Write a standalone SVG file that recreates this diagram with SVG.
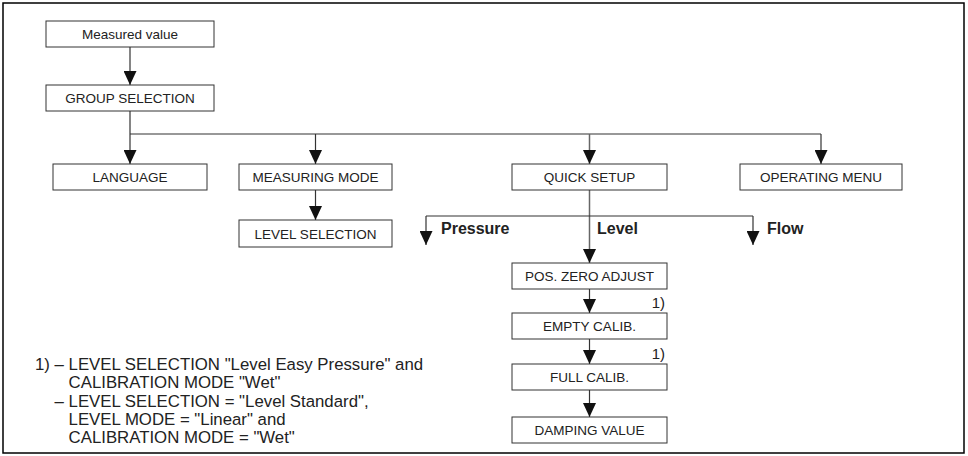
<svg xmlns="http://www.w3.org/2000/svg" width="968" height="456" viewBox="0 0 968 456">
<style>
.box{fill:#fff;stroke:#333;stroke-width:1}
.t{font-family:"Liberation Sans",Arial,sans-serif;font-size:13.5px;fill:#222;text-anchor:middle}
.lbl{font-family:"Liberation Sans",Arial,sans-serif;font-size:16px;font-weight:bold;fill:#222}
.fn{font-family:"Liberation Sans",Arial,sans-serif;font-size:16.8px;fill:#222}
.n1{font-family:"Liberation Sans",Arial,sans-serif;font-size:15px;fill:#222;text-anchor:end}
.c{fill:none;stroke:#333;stroke-width:1.2}
.ca{fill:none;stroke:#333;stroke-width:1.2;marker-end:url(#ah)}
.cg{fill:none;stroke:#666;stroke-width:1.5;marker-end:url(#ah)}
</style>
<defs>
<marker id="ah" markerUnits="userSpaceOnUse" markerWidth="14" markerHeight="13" refX="14" refY="6.5" orient="auto" viewBox="0 0 14 13">
<path d="M0,0 L14,6.5 L0,13 Z" fill="#111"/>
</marker>
</defs>
<rect x="3" y="3" width="961" height="450" fill="#fff" stroke="#000" stroke-width="1.5"/>
<g id="connectors">
<line class="ca" x1="130" y1="47" x2="130" y2="85"/>
<line class="ca" x1="130" y1="111" x2="130" y2="164"/>
<line class="c" x1="130" y1="134" x2="821" y2="134"/>
<line class="ca" x1="315.5" y1="134" x2="315.5" y2="164"/>
<line class="cg" x1="589.5" y1="134" x2="589.5" y2="164"/>
<line class="ca" x1="821" y1="134" x2="821" y2="164"/>
<line class="ca" x1="315.5" y1="190" x2="315.5" y2="220"/>
<line class="cg" x1="589.5" y1="190" x2="589.5" y2="263"/>
<line class="c" x1="426" y1="216" x2="753" y2="216"/>
<line class="ca" x1="426" y1="216" x2="426" y2="245"/>
<line class="ca" x1="753" y1="216" x2="753" y2="245"/>
<line class="ca" x1="589.5" y1="289" x2="589.5" y2="313"/>
<line class="ca" x1="589.5" y1="339" x2="589.5" y2="364"/>
<line class="ca" x1="589.5" y1="390" x2="589.5" y2="417"/>
</g>
<g id="measured-value"><rect class="box" x="46" y="21" width="168" height="26"/><text class="t" x="130" y="39">Measured value</text></g>
<g id="group-selection"><rect class="box" x="46" y="85" width="168" height="26"/><text class="t" x="130" y="103">GROUP SELECTION</text></g>
<g id="language"><rect class="box" x="53" y="164" width="154" height="26"/><text class="t" x="130" y="182">LANGUAGE</text></g>
<g id="measuring-mode"><rect class="box" x="239" y="164" width="153" height="26"/><text class="t" x="315.5" y="182">MEASURING MODE</text></g>
<g id="level-selection"><rect class="box" x="239" y="220" width="153" height="27"/><text class="t" x="315.5" y="238.5">LEVEL SELECTION</text></g>
<g id="quick-setup"><rect class="box" x="512" y="164" width="155" height="26"/><text class="t" x="589.5" y="182">QUICK SETUP</text></g>
<g id="operating-menu"><rect class="box" x="740" y="164" width="162" height="26"/><text class="t" x="821" y="182">OPERATING MENU</text></g>
<g id="pressure"><text class="lbl" x="441" y="234">Pressure</text></g>
<g id="level"><text class="lbl" x="597" y="234">Level</text></g>
<g id="flow"><text class="lbl" x="767" y="234">Flow</text></g>
<g id="pos-zero-adjust"><rect class="box" x="512" y="263" width="155" height="26"/><text class="t" x="589.5" y="281">POS. ZERO ADJUST</text></g>
<g id="empty-calib"><rect class="box" x="512" y="313" width="155" height="26"/><text class="t" x="589.5" y="331">EMPTY CALIB.</text></g>
<g id="full-calib"><rect class="box" x="512" y="364" width="155" height="26"/><text class="t" x="589.5" y="382">FULL CALIB.</text></g>
<g id="damping-value"><rect class="box" x="512" y="417" width="155" height="26"/><text class="t" x="589.5" y="435">DAMPING VALUE</text></g>
<g id="notes">
<text class="n1" x="665" y="308">1)</text>
<text class="n1" x="665" y="359">1)</text>
<text class="fn" x="35" y="370">1) – LEVEL SELECTION "Level Easy Pressure" and</text>
<text class="fn" x="68.6" y="388">CALIBRATION MODE "Wet"</text>
<text class="fn" x="54.6" y="406.5">– LEVEL SELECTION = "Level Standard",</text>
<text class="fn" x="68.6" y="424.5">LEVEL MODE = "Linear" and</text>
<text class="fn" x="68.6" y="443">CALIBRATION MODE = "Wet"</text>
</g>
</svg>
